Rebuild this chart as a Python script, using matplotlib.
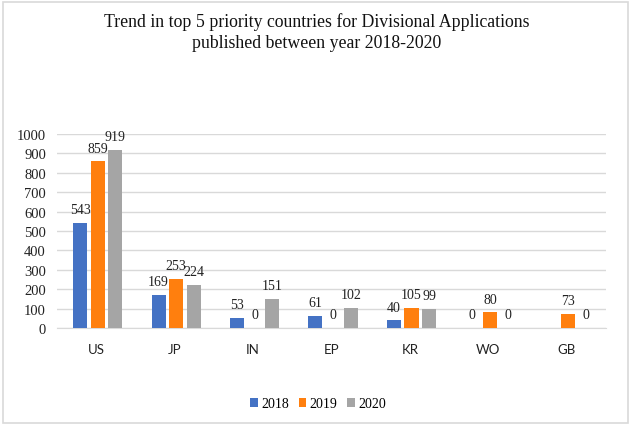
import numpy as np
import matplotlib.pyplot as plt
from matplotlib.patches import Rectangle

plt.rcParams['font.family'] = ['Liberation Serif', 'DejaVu Serif']

# data
countries = ['US', 'JP', 'IN', 'EP', 'KR', 'WO', 'GB']
years = ['2018', '2019', '2020']
v2018 = [543, 169, 53, 61, 40, 0, np.nan]
v2019 = [859, 253, 0, 0, 105, 80, 73]
v2020 = [919, 224, 151, 102, 99, 0, 0]
colors = ['#4472C4', '#FF7F0E', '#A5A5A5']

W, H = 634, 431
fig = plt.figure(figsize=(W / 100, H / 100), dpi=100)
ax = fig.add_axes([57 / W, (H - 329) / H, (606 - 57) / W, (329 - 135) / H])

x = np.arange(len(countries))
bw = 0.18
step = 0.225
for i, (vals, yr, c) in enumerate(zip([v2018, v2019, v2020], years, colors)):
    pos = x + (i - 1) * step + 0.02
    ax.bar(pos, vals, width=bw, color=c, label=yr, zorder=3)
    for p, v in zip(pos, vals):
        if np.isnan(v):
            continue
        ax.annotate(f'{int(v)}', (p, v), xytext=(0, 7), textcoords='offset points',
                    ha='center', va='baseline', fontsize=10, color='#222222')

ax.set_xlim(-0.5, len(countries) - 0.5)
ax.set_ylim(0, 1000)
ax.set_yticks(range(0, 1001, 100))
ax.set_xticks(x)
ax.set_xticklabels(countries, family=['Lato', 'DejaVu Sans'], fontsize=9.5)
ax.tick_params(axis='both', length=0, colors='#222222')
ax.tick_params(axis='y', pad=8, labelsize=10.5)
ax.tick_params(axis='x', pad=11)
ax.grid(axis='y', color='#D9D9D9', lw=1, zorder=0)
for s in ['top', 'right', 'left']:
    ax.spines[s].set_visible(False)
ax.spines['bottom'].set_color('#D9D9D9')

fig.text(0.5, 1 - 22 / H, 'Trend in top 5 priority countries for Divisional Applications',
         ha='center', va='center', fontsize=12.8, color='#111111')
fig.text(0.5, 1 - 44 / H, 'published between year 2018-2020',
         ha='center', va='center', fontsize=12.8, color='#111111')

fig.legend(loc='center', bbox_to_anchor=(318 / W, 1 - 405 / H), ncol=3, frameon=False,
           fontsize=10, handlelength=0.55, handleheight=0.55, handletextpad=0.25,
           columnspacing=0.7)

fig.patches.append(Rectangle((2.5 / W, 1 - 424 / H), 625.5 / W, 421 / H,
                             transform=fig.transFigure, fill=False,
                             edgecolor='#D9D9D9', lw=1.2))

fig.savefig('out.png', dpi=100)
